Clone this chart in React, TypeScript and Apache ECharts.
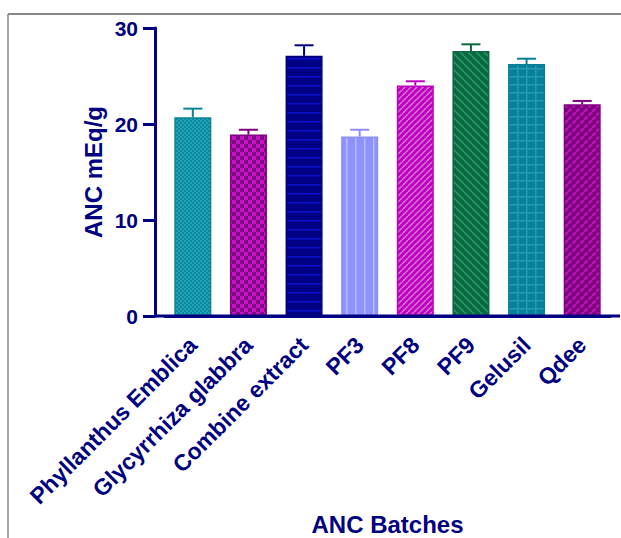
import React, { useEffect, useRef } from "react";
import * as echarts from "echarts";

const categories = [
  "Phyllanthus Emblica",
  "Glycyrrhiza glabbra",
  "Combine extract",
  "PF3",
  "PF8",
  "PF9",
  "Gelusil",
  "Qdee",
];
const values = [20.7, 18.9, 27.1, 18.7, 24.0, 27.6, 26.25, 22.05];
const errors = [0.9, 0.5, 1.1, 0.7, 0.45, 0.7, 0.55, 0.35];
const yTicks = [0, 10, 20, 30];

const NAVY = "#000080";
const FONT = "'Liberation Sans', Arial, sans-serif";

type Draw = (ctx: CanvasRenderingContext2D, w: number, h: number) => void;

function makePattern(w: number, h: number, base: string, draw: Draw) {
  const c = document.createElement("canvas");
  c.width = w;
  c.height = h;
  const ctx = c.getContext("2d")!;
  ctx.fillStyle = base;
  ctx.fillRect(0, 0, w, h);
  draw(ctx, w, h);
  return { image: c.toDataURL(), repeat: "repeat", imageWidth: w, imageHeight: h } as any;
}

function diag(ctx: CanvasRenderingContext2D, s: number, color: string, lw: number, forward: boolean) {
  ctx.strokeStyle = color;
  ctx.lineWidth = lw;
  ctx.beginPath();
  if (forward) {
    for (const o of [-s, 0, s]) {
      ctx.moveTo(o, s);
      ctx.lineTo(o + s, 0);
    }
  } else {
    for (const o of [-s, 0, s]) {
      ctx.moveTo(o, 0);
      ctx.lineTo(o + s, s);
    }
  }
  ctx.stroke();
}

function buildStyles() {
  const p1 = makePattern(4, 4, "#0e8a9e", (ctx) => {
    ctx.fillStyle = "#22a2b6";
    ctx.fillRect(0, 0, 2, 2);
    ctx.fillRect(2, 2, 2, 2);
  });
  const p2 = makePattern(8, 8, "#7c0a80", (ctx) => {
    ctx.fillStyle = "#c812c8";
    ctx.fillRect(0, 0, 4, 4);
    ctx.fillRect(4, 4, 4, 4);
  });
  const p3 = makePattern(4, 9, "#000084", (ctx) => {
    ctx.fillStyle = "#0a10cc";
    ctx.fillRect(0, 4, 4, 1.5);
  });
  const p4 = makePattern(9, 4, "#9090ff", (ctx) => {
    ctx.fillStyle = "#a9c2ff";
    ctx.fillRect(4, 0, 1.5, 4);
  });
  const p5 = makePattern(6, 6, "#c000c0", (ctx) => diag(ctx, 6, "#d67ad6", 1.4, true));
  const p6 = makePattern(8, 8, "#0a6840", (ctx) => diag(ctx, 8, "#22956a", 1.8, false));
  const p7 = makePattern(9, 8, "#0b7e98", (ctx) => {
    ctx.fillStyle = "#1f9cb4";
    ctx.fillRect(4, 0, 1.5, 8);
    ctx.fillRect(0, 4, 9, 1.5);
  });
  const p8 = makePattern(8, 8, "#7a007a", (ctx) => {
    diag(ctx, 8, "#b512b5", 3, true);
    ctx.strokeStyle = "#7a007a";
    ctx.lineWidth = 1.5;
    ctx.beginPath();
    ctx.moveTo(2, 2);
    ctx.lineTo(6, 6);
    ctx.stroke();
  });
  return [p1, p2, p3, p4, p5, p6, p7, p8];
}

const edgeColors = ["#0b8296", "#800080", "#000080", "#8c8cff", "#c000c0", "#0a6840", "#0a7e98", "#800080"];

export default function App() {
  const ref = useRef<HTMLDivElement>(null);
  useEffect(() => {
    if (!ref.current) return;
    const chart = echarts.init(ref.current, null, { renderer: "svg" });
    const patterns = buildStyles();
    chart.setOption({
      animation: false,
      backgroundColor: "#ffffff",
      grid: { left: 165, width: 445, top: 28, height: 288, containLabel: false, outerBoundsMode: "none" },
      xAxis: {
        type: "category",
        data: categories,
        name: "ANC Batches",
        nameLocation: "middle",
        nameGap: 196,
        nameMoveOverlap: false,
        nameTextStyle: { color: NAVY, fontFamily: FONT, fontWeight: "bold", fontSize: 24, lineHeight: 24 },
        axisLine: { lineStyle: { color: NAVY, width: 3 } },
        axisTick: { alignWithLabel: true, length: 11, lineStyle: { color: NAVY, width: 3 } },
        axisLabel: {
          rotate: 45,
          interval: 0,
          margin: 25,
          color: NAVY,
          fontFamily: FONT,
          fontWeight: "bold",
          fontSize: 23,
        },
      },
      yAxis: {
        type: "value",
        min: yTicks[0],
        max: yTicks[yTicks.length - 1],
        interval: 10,
        offset: 10,
        name: "ANC mEq/g",
        nameLocation: "middle",
        nameGap: 50,
        nameRotate: 90,
        nameMoveOverlap: false,
        nameTextStyle: { color: NAVY, fontFamily: FONT, fontWeight: "bold", fontSize: 24 },
        splitLine: { show: false },
        axisLine: { show: true, lineStyle: { color: NAVY, width: 3 } },
        axisTick: { show: true, length: 12, lineStyle: { color: NAVY, width: 3 } },
        axisLabel: { margin: 17, color: NAVY, fontFamily: FONT, fontWeight: "bold", fontSize: 21 },
      },
      graphic: [
        { type: "line", shape: { x1: 8, y1: 14, x2: 621, y2: 14 }, style: { stroke: "#888888", lineWidth: 2 } },
        { type: "line", shape: { x1: 8, y1: 14, x2: 8, y2: 538 }, style: { stroke: "#888888", lineWidth: 1.5 } },
        { type: "line", shape: { x1: 154, y1: 316, x2: 620, y2: 316 }, style: { stroke: NAVY, lineWidth: 3 }, z: 100 },
      ],
      series: [
        {
          type: "bar",
          barWidth: 37,
          z: 2,
          data: values.map((v, i) => ({
            value: v,
            itemStyle: { color: patterns[i], borderColor: edgeColors[i], borderWidth: 1.5 },
          })),
        },
        {
          type: "custom",
          z: 3,
          encode: { x: 0, y: [1, 2] },
          data: values.map((v, i) => [i, v, v + errors[i]]),
          renderItem: (params: any, api: any) => {
            const x = api.value(0);
            const lo = api.coord([x, api.value(1)]);
            const hi = api.coord([x, api.value(2)]);
            const half = 9.5;
            const color = edgeColors[params.dataIndex];
            return {
              type: "group",
              children: [
                { type: "line", shape: { x1: lo[0], y1: lo[1], x2: hi[0], y2: hi[1] }, style: { stroke: color, lineWidth: 2 } },
                { type: "line", shape: { x1: hi[0] - half, y1: hi[1], x2: hi[0] + half, y2: hi[1] }, style: { stroke: color, lineWidth: 2 } },
              ],
            };
          },
        },
      ],
    });
    return () => chart.dispose();
  }, []);
  return <div ref={ref} style={{ position: "fixed", left: 0, top: 0, width: 621, height: 538 }} />;
}
